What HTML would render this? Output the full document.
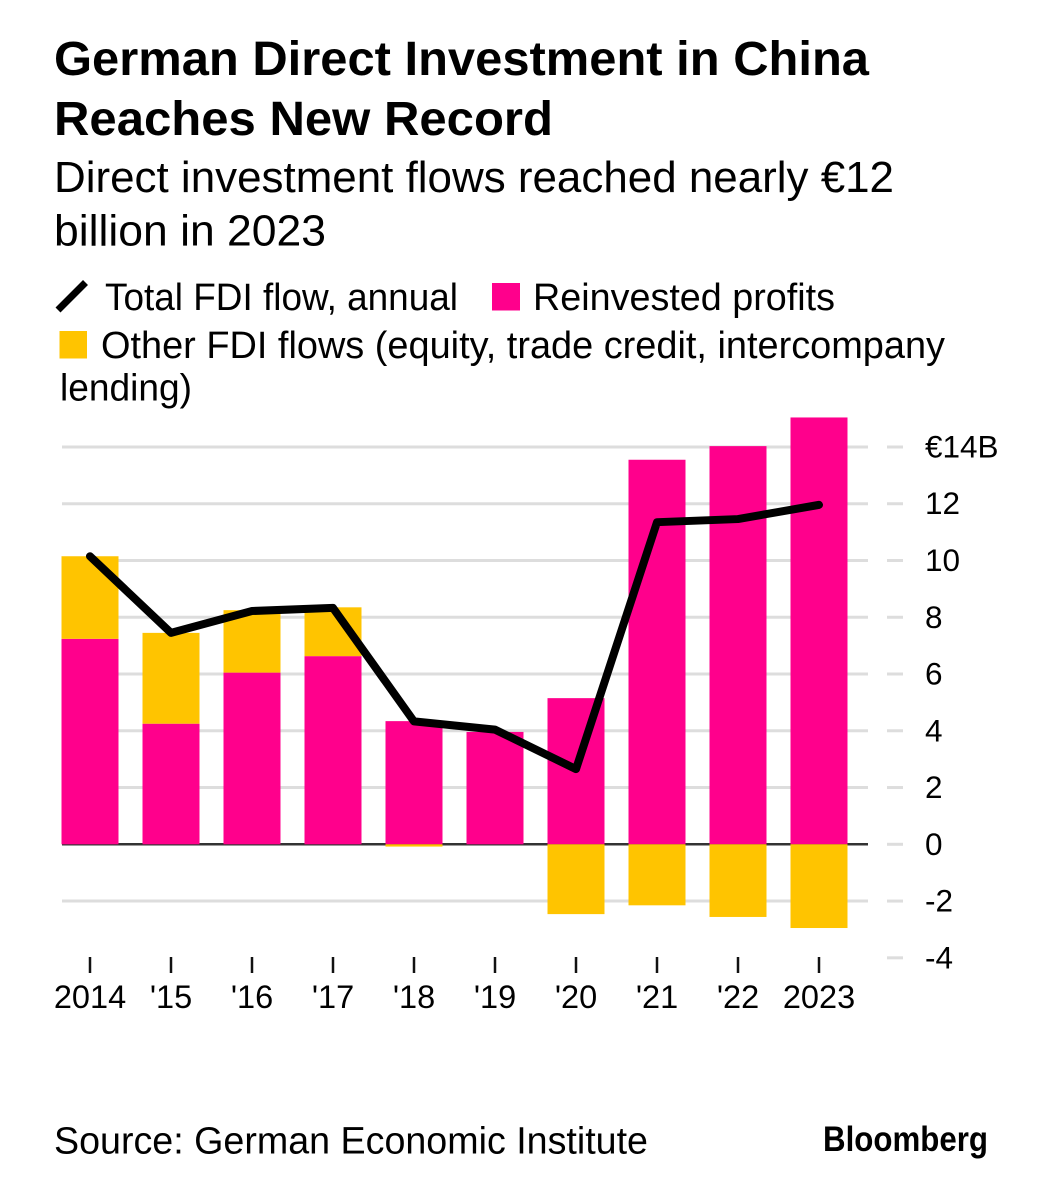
<!DOCTYPE html>
<html lang="en">
<head>
<meta charset="utf-8">
<title>German Direct Investment in China Reaches New Record</title>
<style>
html,body{margin:0;padding:0;background:#fff;}
#stage{display:block;width:1053px;height:1200px;font-family:"Liberation Sans",sans-serif;fill:#000;}
.title{font-size:48.5px;font-weight:700;}
.subtitle{font-size:43.5px;}
.legend{font-size:38px;}
.tick{font-size:31.5px;}
.xtick{font-size:32.5px;}
.source{font-size:38px;}
.logo{font-size:35px;font-weight:700;}
</style>
</head>
<body>
<svg id="stage" xmlns="http://www.w3.org/2000/svg" width="1053" height="1200" viewBox="0 0 1053 1200">
  <text class="title" x="54" y="75" textLength="815" lengthAdjust="spacingAndGlyphs">German Direct Investment in China</text>
  <text class="title" x="54" y="135" textLength="499" lengthAdjust="spacingAndGlyphs">Reaches New Record</text>
  <text class="subtitle" x="54" y="192" textLength="840" lengthAdjust="spacingAndGlyphs">Direct investment flows reached nearly €12</text>
  <text class="subtitle" x="54" y="245.5" textLength="272" lengthAdjust="spacingAndGlyphs">billion in 2023</text>

  <g>
    <line x1="58" y1="310" x2="85.5" y2="282.5" stroke="#000" stroke-width="7"/>
    <text class="legend" x="105" y="310" textLength="353" lengthAdjust="spacingAndGlyphs">Total FDI flow, annual</text>
    <rect x="492" y="283" width="28" height="27.5" fill="#ff008c"/>
    <text class="legend" x="533" y="310" textLength="302" lengthAdjust="spacingAndGlyphs">Reinvested profits</text>
    <rect x="59.5" y="331" width="27.5" height="27.5" fill="#ffc400"/>
    <text class="legend" x="101" y="358" textLength="844" lengthAdjust="spacingAndGlyphs">Other FDI flows (equity, trade credit, intercompany</text>
    <text class="legend" x="60" y="400.5" textLength="132" lengthAdjust="spacingAndGlyphs">lending)</text>
  </g>

  <g id="plot"></g>

  <text class="source" x="54" y="1153.5" textLength="594" lengthAdjust="spacingAndGlyphs">Source: German Economic Institute</text>
  <text class="logo" x="823" y="1151" textLength="165" lengthAdjust="spacingAndGlyphs">Bloomberg</text>
</svg>
<script>
const categories = ['2014', "'15", "'16", "'17", "'18", "'19", "'20", "'21", "'22", '2023'];
const reinvestedProfits = [7.24, 4.25, 6.05, 6.63, 4.34, 3.96, 5.15, 13.55, 14.03, 15.04];
const otherFlows = [2.91, 3.2, 2.2, 1.72, -0.08, 0, -2.46, -2.15, -2.56, -2.95];
const totalFlow = [10.15, 7.45, 8.22, 8.33, 4.33, 4.04, 2.65, 11.35, 11.46, 11.96];
const yTicks = [14, 12, 10, 8, 6, 4, 2, 0, -2, -4];
const yTickLabels = ['€14B', '12', '10', '8', '6', '4', '2', '0', '-2', '-4'];

const SVG_NS = 'http://www.w3.org/2000/svg';
const plot = document.getElementById('plot');
const PINK = '#ff008c';
const YELLOW = '#ffc400';
const bandStart = 90;
const bandStep = 81;
const barWidth = 57;
const zeroY = 844.3;
const unitHeight = 28.38;

function xScale(i) { return bandStart + i * bandStep; }
function yScale(v) { return zeroY - v * unitHeight; }
function make(tag, attrs) {
  const el = document.createElementNS(SVG_NS, tag);
  Object.keys(attrs).forEach(function (k) { el.setAttribute(k, attrs[k]); });
  plot.appendChild(el);
  return el;
}
function drawBar(i, from, to, fill) {
  const top = Math.min(yScale(from), yScale(to));
  const h = Math.abs(yScale(from) - yScale(to));
  return make('rect', { x: xScale(i) - barWidth / 2, y: top, width: barWidth, height: h, fill: fill });
}

// Horizontal gridlines, their right-hand ticks and labels
yTicks.forEach(function (v, i) {
  if (v !== 0 && v !== -4) {
    const grid = make('line', { x1: 62, x2: 868, y1: yScale(v), y2: yScale(v), stroke: '#dddddd', 'stroke-width': 3 });
    
    
  }
  const tick = make('line', { x1: 887, x2: 903, y1: yScale(v), y2: yScale(v), stroke: '#dddddd', 'stroke-width': 3 });
  
  
  const label = make('text', { x: 925, y: yScale(v) + 10.5, class: 'tick' });
  
  
  label.textContent = yTickLabels[i];
});

// Zero baseline
const zeroLine = make('line', { x1: 62, x2: 868, y1: yScale(0), y2: yScale(0), stroke: '#333333', 'stroke-width': 2.5 });



// Stacked bars
categories.forEach(function (c, i) {
  const pinkBar = drawBar(i, 0, reinvestedProfits[i], PINK);
  
  
  const start = otherFlows[i] >= 0 ? reinvestedProfits[i] : 0;
  const yellowBar = drawBar(i, start, start + otherFlows[i], YELLOW);
  
  
});

// X axis ticks and labels
categories.forEach(function (c, i) {
  const tick = make('line', { x1: xScale(i), x2: xScale(i), y1: 957, y2: 973, stroke: '#111111', 'stroke-width': 2.5 });
  
  
  const label = make('text', { x: xScale(i), y: 1008, class: 'xtick', 'text-anchor': 'middle' });
  
  
  label.textContent = c;
});

// Total FDI line
const linePoints = totalFlow.map(function (v, i) { return xScale(i) + ',' + yScale(v); }).join(' ');
const totalLine = make('polyline', { points: linePoints, fill: 'none', stroke: '#000', 'stroke-width': 8, 'stroke-linecap': 'round', 'stroke-linejoin': 'round' });


</script>
</body>
</html>
